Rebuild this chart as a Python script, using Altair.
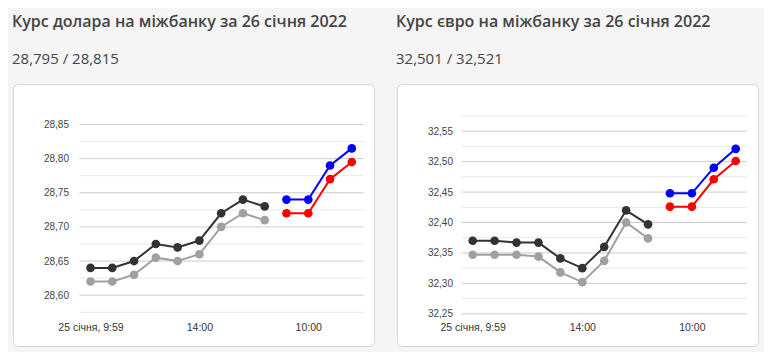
import altair as alt
import pandas as pd

# ---------------- data ----------------
usd_title = "Курс долара на міжбанку за 26 січня 2022"
usd_subtitle = "28,795 / 28,815"
eur_title = "Курс євро на міжбанку за 26 січня 2022"
eur_subtitle = "32,501 / 32,521"

prev_idx = [0, 1, 2, 3, 4, 5, 6, 7, 8]
today_idx = [9, 10, 11, 12]

usd_sell_prev = [28.64, 28.64, 28.65, 28.675, 28.67, 28.68, 28.72, 28.74, 28.73]
usd_buy_prev = [28.62, 28.62, 28.63, 28.655, 28.65, 28.66, 28.70, 28.72, 28.71]
usd_sell_today = [28.74, 28.74, 28.79, 28.815]
usd_buy_today = [28.72, 28.72, 28.77, 28.795]

eur_sell_prev = [32.37, 32.37, 32.367, 32.367, 32.341, 32.325, 32.36, 32.42, 32.397]
eur_buy_prev = [32.347, 32.347, 32.347, 32.344, 32.318, 32.302, 32.337, 32.40, 32.374]
eur_sell_today = [32.448, 32.448, 32.49, 32.521]
eur_buy_today = [32.426, 32.426, 32.471, 32.501]

x_tick_values = [0, 5, 10]
x_tick_labels = ["25 січня, 9:59", "14:00", "10:00"]

usd_y_ticks = [28.60, 28.65, 28.70, 28.75, 28.80, 28.85]
usd_y_minor = [28.575, 28.625, 28.675, 28.725, 28.775, 28.825]
eur_y_ticks = [32.25, 32.30, 32.35, 32.40, 32.45, 32.50, 32.55]
eur_y_minor = [32.275, 32.325, 32.375, 32.425, 32.475, 32.525, 32.575]

series_names = ["sell_prev", "buy_prev", "sell_today", "buy_today"]
series_colors = ["#333333", "#a0a0a0", "#0000ff", "#ff0000"]


def make_df(sell_prev, buy_prev, sell_today, buy_today):
    rows = []
    for name, idxs, vals in [
        ("sell_prev", prev_idx, sell_prev),
        ("buy_prev", prev_idx, buy_prev),
        ("sell_today", today_idx, sell_today),
        ("buy_today", today_idx, buy_today),
    ]:
        for i, v in zip(idxs, vals):
            rows.append({"idx": i, "value": v, "series": name})
    return pd.DataFrame(rows)


x_label_expr = " : ".join(
    f"datum.value == {v} ? '{t}'" for v, t in zip(x_tick_values, x_tick_labels)
) + " : ''"
y_label_expr = "replace(format(datum.value, '.2f'), '.', ',')"

W, H = 361, 262


def panel(df, y_ticks, y_minor, y_domain, y_range, x_range, grid_x, title, subtitle):
    x_scale = alt.Scale(domain=[0, 12], range=x_range, nice=False, zero=False)
    y_scale = alt.Scale(domain=y_domain, range=y_range, nice=False, zero=False)
    y_axis = alt.Axis(
        values=y_ticks,
        labelExpr=y_label_expr,
        orient="left",
        offset=-55.5,
        domain=False,
        ticks=False,
        tickSize=0,
        labelPadding=0,
        grid=False,
        title=None,
        labelAlign="right",
        labelBaseline="middle",
        labelFlush=False,
        labelOverlap=False,
        labelBound=False,
        labelFont="Liberation Sans",
        labelFontSize=10,
        labelColor="#444444",
    )
    x_axis = alt.Axis(
        values=x_tick_values,
        labelExpr=x_label_expr,
        orient="bottom",
        offset=-15.5,
        domain=False,
        ticks=False,
        tickSize=0,
        labelPadding=0,
        grid=False,
        title=None,
        labelBaseline="alphabetic",
        labelAlign="center",
        labelFlush=False,
        labelOverlap=False,
        labelBound=False,
        labelFont="Liberation Sans",
        labelFontSize=10.5,
        labelColor="#333333",
    )

    major = alt.Chart(pd.DataFrame({"value": y_ticks})).mark_rule(
        color="#cccccc", strokeWidth=1
    ).encode(
        y=alt.Y("value:Q", scale=y_scale, axis=y_axis),
        x=alt.value(grid_x[0]),
        x2=alt.value(grid_x[1]),
    )
    minor = alt.Chart(pd.DataFrame({"value": y_minor})).mark_rule(
        color="#e8e8e8", strokeWidth=1
    ).encode(
        y=alt.Y("value:Q", scale=y_scale, axis=y_axis),
        x=alt.value(grid_x[0]),
        x2=alt.value(grid_x[1]),
    )

    color = alt.Color(
        "series:N",
        scale=alt.Scale(domain=series_names, range=series_colors),
        legend=None,
    )
    base = alt.Chart(df).encode(
        x=alt.X("idx:Q", scale=x_scale, axis=x_axis),
        y=alt.Y("value:Q", scale=y_scale, axis=y_axis),
        color=color,
        detail="series:N",
    )
    lines = base.mark_line(strokeWidth=2)
    points = base.mark_circle(size=75, opacity=1)

    return alt.layer(minor, major, lines, points).properties(
        width=W,
        height=H,
        title=alt.TitleParams(text=title, subtitle=subtitle),
    )


usd = panel(
    make_df(usd_sell_prev, usd_buy_prev, usd_sell_today, usd_buy_today),
    usd_y_ticks, usd_y_minor,
    [28.60, 28.85], [211.2, 40.5], [77.5, 338.8], [66.5, 350.5],
    usd_title, usd_subtitle,
)
eur = panel(
    make_df(eur_sell_prev, eur_buy_prev, eur_sell_today, eur_buy_today),
    eur_y_ticks, eur_y_minor,
    [32.25, 32.55], [229.8, 47.2], [75.7, 338.7], [64.7, 350.0],
    eur_title, eur_subtitle,
)

chart = (
    alt.hconcat(usd, eur, spacing=20)
    .properties(
        background="#f5f5f5",
        padding={"left": 3, "top": 5, "right": 5, "bottom": 5},
    )
    .configure_view(fill="white", stroke="#d6d6d6", strokeWidth=1, cornerRadius=5)
    .configure_title(
        font="Open Sans",
        fontSize=16,
        fontWeight=600,
        color="#444444",
        anchor="start",
        offset=17,
        dx=-1,
        subtitleFont="Open Sans",
        subtitleFontSize=15,
        subtitleFontWeight="normal",
        subtitleColor="#444444",
        subtitlePadding=22,
    )
)

chart.save("out.html", embed_options={"renderer": "svg", "actions": False})
